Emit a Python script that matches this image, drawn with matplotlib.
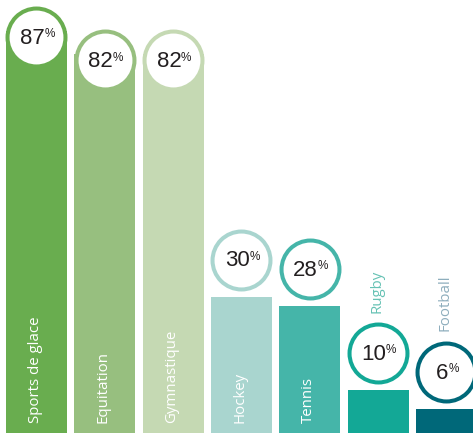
import matplotlib
matplotlib.use("Agg")
import matplotlib.pyplot as plt

# data
sports = ['Sports de glace', 'Equitation', 'Gymnastique', 'Hockey', 'Tennis', 'Rugby', 'Football']
values = [87, 82, 82, 30, 28, 10, 6]
colors = ['#69ad4f', '#97bf7f', '#c5d9b3', '#a9d5cf', '#45b5a9', '#13a896', '#006879']
label_colors = ['white', 'white', 'white', 'white', 'white', '#66c2b4', '#8eaebd']

plt.rcParams['font.family'] = ['Open Sans', 'DejaVu Sans']

fig = plt.figure(figsize=(4.73, 4.33), dpi=100)
ax = fig.add_axes([0, 0, 1, 1])
ax.set_xlim(-0.534, 6.39)
ax.set_ylim(0.86, 93.6)
ax.axis('off')

x = list(range(len(sports)))
ax.bar(x, values, width=0.893, bottom=0, color=colors, zorder=1)

for i, (name, v) in enumerate(zip(sports, values)):
    tall = v > 50
    cy = v - 1.3 if tall else v + 8.0
    ax.scatter([i], [cy], s=1740, facecolor='white', edgecolor=colors[i],
               linewidth=2.9, zorder=3)
    num = ax.annotate(str(v), (i, cy), xytext=(-3, -1), textcoords='offset points',
                      ha='center', va='center', fontsize=16, color='#231f20',
                      family='Liberation Sans', zorder=4)
    ax.annotate('%', xy=(0.98, 0.98), xycoords=num, ha='left', va='top',
                fontsize=8.5, color='#231f20', family='Liberation Sans', zorder=4)

    if v > 20:
        # name inside the bar, reading upwards from the bottom
        ax.annotate(name, (i, 0.86), xytext=(-1, 7), textcoords='offset points',
                    rotation=90, ha='center', va='bottom', fontsize=10.8,
                    color=label_colors[i], zorder=2)
    else:
        # name above the circle
        ax.annotate(name, (i, cy), xytext=(-1, 29), textcoords='offset points',
                    rotation=90, ha='center', va='bottom', fontsize=10.8,
                    color=label_colors[i], zorder=2)

fig.savefig('out.png', dpi=100)
